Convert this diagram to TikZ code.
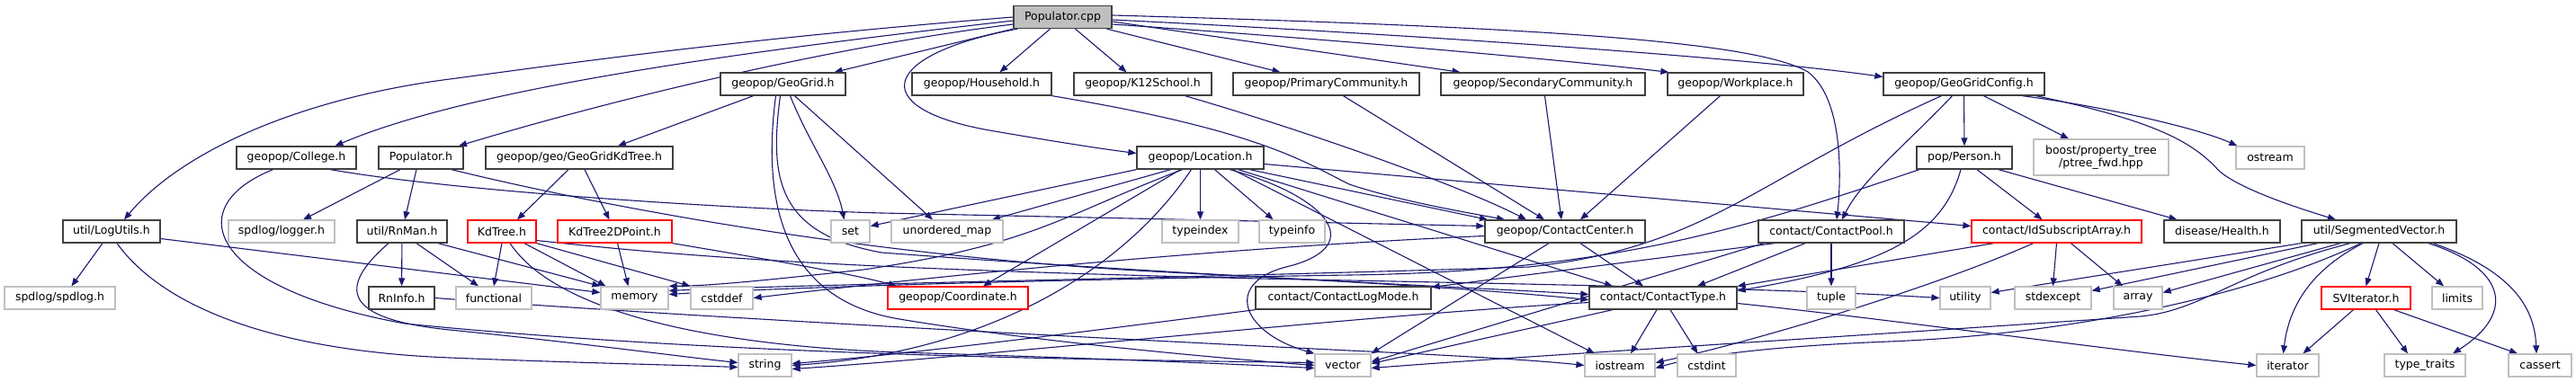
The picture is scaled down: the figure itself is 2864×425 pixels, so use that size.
\documentclass[tikz,border=0pt]{standalone}
\usepackage{fontspec}
\setmainfont{DejaVu Sans}
\usetikzlibrary{arrows.meta}
\definecolor{edgec}{HTML}{191970}
\definecolor{greyb}{HTML}{BFBFBF}
\definecolor{darkb}{HTML}{404040}
\pgfdeclarelayer{bg}
\pgfsetlayers{bg,main}
\begin{document}
\begin{tikzpicture}[x=1pt,y=-1pt,
  nd/.style={draw=darkb,line width=1.3pt,fill=white,minimum height=25pt,inner sep=0pt,
    font=\fontsize{12.5pt}{14pt}\selectfont,text=black},
  ext/.style={nd,draw=greyb},
  trn/.style={nd,draw=red},
  e/.style={draw=edgec,line width=1.1pt,-{Triangle[length=9pt,width=7pt]}}]
\useasboundingbox (0,0) rectangle (2864,425);
% row 0
\node[nd,fill=greyb,minimum width=109pt] (root) at (1181.5,19) {Populator.cpp};
% row 1
\node[nd,minimum width=139pt] (geogrid) at (870.5,93.5) {geopop/GeoGrid.h};
\node[nd,minimum width=155pt] (household) at (1091.5,93.5) {geopop/Household.h};
\node[nd,minimum width=153pt] (k12) at (1270.5,93.5) {geopop/K12School.h};
\node[nd,minimum width=207pt] (primary) at (1474.5,93.5) {geopop/PrimaryCommunity.h};
\node[nd,minimum width=227pt] (secondary) at (1715.5,93.5) {geopop/SecondaryCommunity.h};
\node[nd,minimum width=151pt] (workplace) at (1929.5,93.5) {geopop/Workplace.h};
\node[nd,minimum width=179pt] (ggconfig) at (2183.5,93.5) {geopop/GeoGridConfig.h};
% row 2
\node[nd,minimum width=133pt] (college) at (329.5,175.5) {geopop/College.h};
\node[nd,minimum width=94pt] (poph) at (468,175.5) {Populator.h};
\node[nd,minimum width=208pt] (ggkd) at (644,175.5) {geopop/geo/GeoGridKdTree.h};
\node[nd,minimum width=141pt] (location) at (1334.5,175.5) {geopop/Location.h};
\node[nd,minimum width=106pt] (person) at (2184,175.5) {pop/Person.h};
\node[ext,minimum width=150pt,minimum height=40pt,align=center] (boost) at (2336,175) {boost/property\_tree\\/ptree\_fwd.hpp};
\node[ext,minimum width=76pt] (ostream) at (2524,175.5) {ostream};
% row 3
\node[nd,minimum width=108pt] (logutils) at (124,257.5) {util/LogUtils.h};
\node[ext,minimum width=118pt] (logger) at (313,257.5) {spdlog/logger.h};
\node[nd,minimum width=100pt] (rnman) at (447,257.5) {util/RnMan.h};
\node[trn,minimum width=76pt] (kdtree) at (558,257.5) {KdTree.h};
\node[trn,minimum width=127pt] (kd2d) at (683.5,257.5) {KdTree2DPoint.h};
\node[ext,minimum width=43pt] (set) at (945.5,257.5) {set};
\node[ext,minimum width=124pt] (umap) at (1053,257.5) {unordered\_map};
\node[ext,minimum width=85pt] (typeindex) at (1334.5,257.5) {typeindex};
\node[ext,minimum width=73pt] (typeinfo) at (1436.5,257.5) {typeinfo};
\node[nd,minimum width=178pt] (cc) at (1740,257.5) {geopop/ContactCenter.h};
\node[nd,minimum width=162pt] (cpool) at (2036,257.5) {contact/ContactPool.h};
\node[trn,minimum width=189pt] (idsa) at (2286.5,257.5) {contact/IdSubscriptArray.h};
\node[nd,minimum width=129pt] (health) at (2470.5,257.5) {disease/Health.h};
\node[nd,minimum width=172pt] (segv) at (2645,257.5) {util/SegmentedVector.h};
% row 4
\node[ext,minimum width=123pt] (spdlog) at (66.5,331.5) {spdlog/spdlog.h};
\node[nd,minimum width=73pt] (rninfo) at (446.5,331.5) {RnInfo.h};
\node[ext,minimum width=84pt] (functional) at (549,331.5) {functional};
\node[ext,minimum width=75pt] (memory) at (705.5,331.5) {memory};
\node[ext,minimum width=69pt] (cstddef) at (802.5,331.5) {cstddef};
\node[trn,minimum width=156pt] (coord) at (1065,331.5) {geopop/Coordinate.h};
\node[nd,minimum width=195pt] (clog) at (1493.5,331.5) {contact/ContactLogMode.h};
\node[nd,minimum width=164pt] (ctype) at (1849,331.5) {contact/ContactType.h};
\node[ext,minimum width=54pt] (tuple) at (2036,331.5) {tuple};
\node[ext,minimum width=56pt] (utility) at (2185,331.5) {utility};
\node[ext,minimum width=85pt] (stdexcept) at (2282.5,331.5) {stdexcept};
\node[ext,minimum width=54pt] (array) at (2377,331.5) {array};
\node[trn,minimum width=99pt] (svit) at (2630.5,331.5) {SVIterator.h};
\node[ext,minimum width=56pt] (limits) at (2732,331.5) {limits};
% row 5
\node[ext,minimum width=59pt] (string) at (850.5,406.5) {string};
\node[ext,minimum width=62pt] (vector) at (1493,406.5) {vector};
\node[ext,minimum width=78pt] (iostream) at (1801,406.5) {iostream};
\node[ext,minimum width=65pt] (cstdint) at (1897.5,406.5) {cstdint};
\node[ext,minimum width=69pt] (iterator) at (2543.5,406.5) {iterator};
\node[ext,minimum width=90pt] (ttraits) at (2696,406.5) {type\_traits};
\node[ext,minimum width=70pt] (cassert) at (2824,406.5) {cassert};
\begin{pgfonlayer}{bg}
\fill[white] (0,0) rectangle (2864,425);
% root edges
\draw[e] (root.west) .. controls (800,45) and (600,75) .. (500,88) .. controls (330,110) and (200,170) .. ([xshift=14]logutils.north);
\draw[e] ([yshift=-4]root.west) .. controls (800,60) and (520,100) .. ([xshift=43]college.north);
\draw[e] ([yshift=-8]root.west) .. controls (900,55) and (650,120) .. ([xshift=42]poph.north);
\draw[e] (root.south west) -- ([xshift=57]geogrid.north);
\draw[e] ([xshift=5]root.south west) .. controls (980,60) and (960,120) .. (1100,145) .. controls (1170,157) and (1220,165) .. ([yshift=5]location.west);
\draw[e] ([xshift=-14]root.south) -- ([xshift=20]household.north);
\draw[e] ([xshift=14]root.south) -- ([xshift=-18]k12.north);
\draw[e] ([xshift=49]root.south) -- ([xshift=-51]primary.north);
\draw[e] ([yshift=-5]root.east) -- ([xshift=-92]secondary.north);
\draw[e] ([yshift=-8]root.east) .. controls (1500,45) and (1750,68) .. ([xshift=2]workplace.north west);
\draw[e] ([yshift=-3]root.east) .. controls (1600,40) and (1950,65) .. ([yshift=8]ggconfig.west);
\draw[e] ([yshift=2]root.east) .. controls (1700,30) and (1950,45) .. (2010,80) .. controls (2050,110) and (2047,200) .. ([xshift=6]cpool.north);
% geogrid
\draw[e] ([xshift=-33]geogrid.south) -- ([xshift=43]ggkd.north);
\draw[e] ([xshift=8]geogrid.south) .. controls (900,160) and (930,200) .. ([xshift=-7]set.north);
\draw[e] ([xshift=13]geogrid.south) -- ([xshift=-16]umap.north);
\draw[e] ([xshift=-3]geogrid.south) .. controls (855,200) and (865,260) .. (980,281) .. controls (1300,305) and (1600,318) .. ([yshift=4]ctype.west);
\draw[e] ([xshift=-8]geogrid.south) .. controls (845,240) and (880,335) .. (1000,355) .. controls (1150,380) and (1350,398) .. (vector.west);
% contact centers
\draw[e] (household.south east) .. controls (1400,145) and (1450,180) .. (1500,205) .. controls (1560,225) and (1640,238) .. ([xshift=-67]cc.north);
\draw[e] ([xshift=47]k12.south) .. controls (1450,145) and (1620,205) .. ([xshift=-43]cc.north);
\draw[e] ([xshift=19]primary.south) -- ([xshift=-23]cc.north);
\draw[e] ([xshift=2]secondary.south) -- ([xshift=-4]cc.north);
\draw[e] ([xshift=-17]workplace.south) -- ([xshift=17]cc.north);
% ggconfig
\draw[e] (ggconfig.south) -- (person.north);
\draw[e] ([xshift=22]ggconfig.south) -- ([xshift=-36]boost.north);
\draw[e] ([xshift=65]ggconfig.south) .. controls (2350,120) and (2450,145) .. ([xshift=2]ostream.north west);
\draw[e] ([xshift=80]ggconfig.south) .. controls (2400,135) and (2440,160) .. (2467,190) .. controls (2490,210) and (2550,230) .. ([xshift=-48]segv.north);
\draw[e] ([xshift=-13]ggconfig.south) .. controls (2120,160) and (2070,200) .. ([xshift=12]cpool.north);
\draw[e] ([xshift=-25]ggconfig.south) .. controls (1950,200) and (1900,275) .. (1700,297) .. controls (1300,310) and (900,316) .. ([yshift=8]memory.east);
% college
\draw[e] ([xshift=38]college.south) .. controls (500,212) and (800,232) .. (980,237) -- ([yshift=6]cc.west);
\draw[e] ([xshift=-26]college.south) .. controls (200,230) and (230,320) .. (450,360) .. controls (800,395) and (1200,400) .. ([yshift=3]vector.west);
% populator.h
\draw[e] ([xshift=-23]poph.south) -- ([xshift=24]logger.north);
\draw[e] ([xshift=-5]poph.south) -- ([xshift=3]rnman.north);
\draw[e] ([xshift=34]poph.south) .. controls (650,225) and (950,285) .. (1300,303) .. controls (1500,313) and (1650,322) .. ([yshift=-2]ctype.west);
% ggkd
\draw[e] ([xshift=-12]ggkd.south) -- ([xshift=17]kdtree.north);
\draw[e] ([xshift=6]ggkd.south) -- ([xshift=-6]kd2d.north);
% logutils
\draw[e] ([xshift=-10]logutils.south) -- ([xshift=13]spdlog.north);
\draw[e] ([yshift=-8]logutils.east) -- ([yshift=6]memory.west);
\draw[e] ([xshift=6]logutils.south) .. controls (180,340) and (300,390) .. (500,398) .. controls (650,404) and (750,406) .. ([yshift=-2]string.west);
% rnman
\draw[e] (rnman) -- (rninfo);
\draw[e] ([xshift=16]rnman.south) -- ([xshift=-17]functional.north);
\draw[e] ([xshift=40]rnman.south) -- (memory.north west);
\draw[e] ([xshift=-15]rnman.south) .. controls (375,320) and (380,355) .. (500,367) .. controls (650,382) and (750,396) .. ([yshift=3]string.west);
\draw[e] (rninfo.east) .. controls (800,355) and (1300,380) .. (1500,390) .. controls (1650,397) and (1720,402) .. (iostream.west);
% kdtree
\draw[e] (kdtree.south) -- (functional.north);
\draw[e] ([xshift=25]kdtree.south) -- ([xshift=-32]memory.north);
\draw[e] (kdtree.south east) -- (cstddef.north west);
\draw[e] ([xshift=9]kdtree.south) .. controls (620,350) and (800,385) .. (1000,392) .. controls (1200,398) and (1350,404) .. ([yshift=-3]vector.west);
\draw[e] ([yshift=-10]kdtree.east) .. controls (800,290) and (1000,300) .. (1400,310) .. controls (1800,318) and (2000,322) .. (utility.west);
% kd2d
\draw[e] ([xshift=3]kd2d.south) -- ([xshift=-7]memory.north);
\draw[e] (kd2d.south east) .. controls (850,288) and (950,305) .. ([xshift=-68]coord.north);
% location
\draw[e] (location.south west) -- ([yshift=6]set.east);
\draw[e] ([xshift=-33]location.south) -- ([xshift=50]umap.north);
\draw[e] ([xshift=-20]location.south) .. controls (1180,240) and (1150,272) .. (960,300) .. controls (850,312) and (790,318) .. (memory.north east);
\draw[e] ([xshift=-22]location.south) -- ([xshift=28]coord.north);
\draw[e] ([xshift=-10]location.south) .. controls (1250,300) and (1100,392) .. (string.east);
\draw[e] (location.south) -- (typeindex.north);
\draw[e] ([xshift=16]location.south) -- ([xshift=-21]typeinfo.north);
\draw[e] ([xshift=33]location.south) .. controls (1480,220) and (1520,275) .. (1430,297) .. controls (1360,315) and (1380,370) .. (vector.north west);
\draw[e] ([xshift=36]location.south) -- ([xshift=-28]iostream.north);
\draw[e] ([xshift=42]location.south) -- ([xshift=-56]ctype.north);
\draw[e] ([xshift=55]location.south) -- ([xshift=-86]cc.north);
\draw[e] ([yshift=-7]location.east) -- ([yshift=6]idsa.west);
% contact center
\draw[e] ([yshift=-5]cc.west) .. controls (1300,278) and (950,318) .. (cstddef.east);
\draw[e] ([xshift=17]cc.south) -- ([xshift=-22]ctype.north);
\draw[e] ([xshift=-18]cc.south) -- (vector.north east);
% person
\draw[e] ([xshift=14]person.south) -- ([xshift=-16]idsa.north);
\draw[e] ([xshift=38]person.south) -- ([xshift=-50]health.north);
\draw[e] ([xshift=-4]person.south) .. controls (2160,260) and (2100,295) .. ([yshift=8]ctype.east);
\draw[e] ([xshift=-50]person.south) .. controls (1950,250) and (1800,302) .. (1500,306) .. controls (1000,314) and (800,324) .. ([yshift=4]memory.east);
% contact pool
\draw[e] ([xshift=-63]cpool.south) -- ([yshift=12]clog.east);
\draw[e] ([xshift=-29]cpool.south) -- ([xshift=38]ctype.north);
\draw[e] (cpool.south) -- (tuple.north);
\draw[e] ([xshift=-75]cpool.south) -- ([yshift=4]vector.east);
% idsubscriptarray
\draw[e] ([xshift=-70]idsa.south) -- (ctype.north east);
\draw[e] ([xshift=-26]idsa.south) .. controls (2150,320) and (1950,380) .. ([yshift=3]iostream.east);
\draw[e] (idsa.south) -- (stdexcept.north);
\draw[e] ([xshift=16]idsa.south) -- ([xshift=-17]array.north);
% segmented vector
\draw[e] (segv.south west) -- ([yshift=6]utility.east);
\draw[e] ([xshift=-68]segv.south) -- ([yshift=8]stdexcept.east);
\draw[e] ([xshift=-43]segv.south) -- ([yshift=6]array.east);
\draw[e] ([xshift=-32]segv.south) .. controls (2480,305) and (2450,345) .. (2380,352) .. controls (2000,378) and (1700,396) .. ([yshift=-3]vector.east);
\draw[e] ([xshift=-20]segv.south) .. controls (2500,330) and (2300,372) .. (2100,380) .. controls (1950,386) and (1880,398) .. ([yshift=-3]iostream.east);
\draw[e] ([xshift=-18]segv.south) .. controls (2570,300) and (2545,340) .. ([xshift=-5]iterator.north);
\draw[e] (segv.south) -- (svit.north);
\draw[e] ([xshift=15]segv.south) -- ([xshift=-15]limits.north);
\draw[e] ([xshift=55]segv.south) .. controls (2790,300) and (2795,350) .. ([xshift=31]ttraits.north);
\draw[e] ([xshift=60]segv.south) .. controls (2790,300) and (2818,340) .. ([xshift=-4]cassert.north);
% svit
\draw[e] ([xshift=-14]svit.south) -- ([xshift=17]iterator.north);
\draw[e] ([xshift=11]svit.south) -- ([xshift=-19]ttraits.north);
\draw[e] ([xshift=31]svit.south) -- ([xshift=-25]cassert.north);
% contact type
\draw[e] ([xshift=-7]ctype.south) -- ([xshift=12]iostream.north);
\draw[e] ([xshift=8]ctype.south) -- ([xshift=-10]cstdint.north);
\draw[e] ([yshift=-5]ctype.west) .. controls (1500,352) and (1100,396) .. ([yshift=-4]string.east);
\draw[e] ([xshift=-56]ctype.south) -- ([yshift=2]vector.east);
\draw[e] ([yshift=-6]ctype.east) .. controls (2100,355) and (2350,390) .. (iterator.west);
% contact log mode
\draw[e] (clog.south west) .. controls (1200,370) and (1000,395) .. ([yshift=2]string.east);
\end{pgfonlayer}
\end{tikzpicture}
\end{document}
